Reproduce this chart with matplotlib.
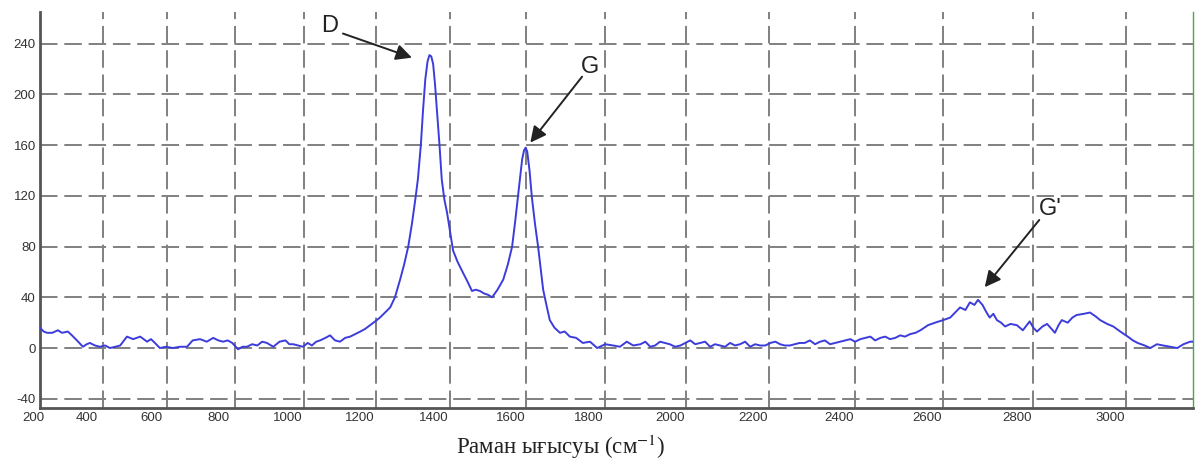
import numpy as np
import matplotlib
matplotlib.use("Agg")
import matplotlib.pyplot as plt
from matplotlib.transforms import ScaledTranslation

# Raman spectrum
wavenumber = [
    200, 212, 223, 240, 258, 271, 290, 303, 319, 338, 350, 360, 376, 392, 408,
    423, 440, 455, 476, 495, 517, 538, 550, 562, 577, 596, 616, 638, 659, 676,
    698, 718, 737, 752, 766, 780, 793, 810, 823, 836, 851, 866, 880, 894, 912,
    930, 947, 958, 969, 983, 997, 1010, 1022, 1034, 1045, 1060, 1073, 1087, 1101,
    1115, 1129, 1143, 1157, 1170, 1184, 1198, 1211, 1225, 1239, 1252, 1266, 1277,
    1288, 1298, 1307, 1314, 1322, 1328, 1334, 1340, 1345, 1350, 1355, 1360, 1366,
    1372, 1378, 1385, 1392, 1400, 1408, 1420, 1435, 1447, 1458, 1468, 1479, 1490,
    1500, 1511, 1525, 1540, 1552, 1563, 1571, 1578, 1584, 1589, 1594, 1598, 1602,
    1608, 1614, 1622, 1630, 1643, 1652, 1660, 1672, 1686, 1698, 1711, 1727, 1744,
    1762, 1780, 1800, 1820, 1837, 1854, 1870, 1888, 1900, 1912, 1924, 1936, 1948,
    1960, 1973, 1986, 1998, 2010, 2022, 2034, 2046, 2058, 2070, 2082, 2094, 2106,
    2118, 2130, 2142, 2154, 2166, 2178, 2190, 2202, 2214, 2225, 2236, 2248, 2260,
    2271, 2283, 2295, 2307, 2319, 2330, 2342, 2354, 2366, 2378, 2389, 2400, 2412,
    2424, 2435, 2446, 2458, 2469, 2480, 2492, 2503, 2514, 2526, 2538, 2549, 2566,
    2582, 2600, 2616, 2627, 2638, 2650, 2660, 2670, 2678, 2688, 2697, 2704, 2712,
    2720, 2729, 2738, 2750, 2764, 2777, 2792, 2800, 2808, 2820, 2830, 2840, 2847,
    2855, 2862, 2875, 2885, 2894, 2910, 2923, 2935, 2945, 2960, 2973, 2988, 3004,
    3015, 3025, 3040, 3052, 3066, 3079, 3094, 3109, 3122, 3136, 3142,
]
intensity = [
    16, 13, 12, 12, 14, 12, 13, 10, 6, 1, 3, 4, 2, 1, 2,
    0, 1, 2, 9, 7, 9, 5, 7, 4, 0, 1, 0, 1, 1, 6,
    7, 5, 8, 6, 5, 6, 4, -1, 1, 1, 3, 2, 5, 4, 1,
    5, 6, 3, 3, 2, 1, 4, 2, 5, 6, 8, 10, 6, 5,
    8, 9, 11, 13, 15, 18, 21, 24, 28, 32, 40, 54, 66,
    80, 98, 117, 133, 160, 188, 212, 226, 231, 230, 224, 208, 184,
    160, 133, 117, 107, 92, 77, 68, 59, 52, 45, 46, 45, 43,
    42, 40, 46, 54, 66, 80, 100, 119, 136, 149, 156, 158, 155,
    140, 119, 98, 80, 46, 33, 22, 16, 12, 13, 9, 8, 4,
    5, 0, 3, 2, 1, 5, 2, 3, 5, 1, 2, 5, 4,
    3, 1, 2, 4, 6, 3, 4, 5, 1, 3, 2, 1, 4,
    2, 3, 5, 1, 3, 2, 2, 4, 5, 3, 2, 2, 3,
    4, 4, 6, 3, 5, 6, 3, 4, 5, 6, 7, 5, 7,
    8, 9, 6, 8, 9, 7, 8, 10, 9, 11, 12, 14, 18,
    20, 22, 24, 28, 32, 30, 36, 34, 38, 34, 28, 24, 27,
    22, 20, 17, 19, 18, 14, 21, 16, 13, 17, 19, 15, 12,
    18, 22, 20, 24, 26, 27, 28, 25, 22, 19, 17, 13, 9,
    6, 4, 2, 0, 3, 2, 1, 0, 3, 5, 5,
]

y_ticks = [-40, 0, 40, 80, 120, 160, 200, 240]
x_ticks = list(range(200, 3001, 200))

# peak labels: (text, text position, arrow tip)
peak_names = ["D", "G", "G'"]
peak_text_xy = [(1073, 254), (1762, 222), (2836, 110)]
peak_tail_xy = [(1109, 248), (1742, 214), (2813, 101)]
peak_tip_xy = [(1298, 229), (1610, 162), (2693, 48)]

# the source picture is slightly stretched to the right, mimic with a mild quadratic scale
K = 9.39e-5


def fwd(x):
    d = np.asarray(x, dtype=float) - 200
    return d + K * d * d


def inv(y):
    y = np.asarray(y, dtype=float)
    return 200 + (-1 + np.sqrt(np.maximum(1 + 4 * K * y, 0))) / (2 * K)


plt.rcParams["mathtext.fontset"] = "stix"

fig = plt.figure(figsize=(11.96, 4.61), dpi=100)
ax = fig.add_axes([40 / 1196, 53 / 461, 1153 / 1196, 396 / 461])
ax.set_xscale("function", functions=(fwd, inv))

ax.plot(wavenumber, intensity, color="#3c3cdc", lw=1.4, zorder=3)

ax.set_xlim(200, 3142)
ax.set_ylim(-47.3, 265)
ax.set_xticks(x_ticks)
ax.set_yticks(y_ticks)
ax.set_xticklabels([str(v) for v in x_ticks])
ax.set_yticklabels([str(v) for v in y_ticks])
ax.grid(True, color="#808080", lw=1.4, linestyle=(0, (9, 3.5)), zorder=1)
ax.tick_params(length=0, labelsize=9.5, labelcolor="#333333", pad=3)
for lab in ax.get_xticklabels() + ax.get_yticklabels():
    lab.set_fontfamily("Liberation Sans")

# x labels sit a little left of their grid lines in the original
for i, lab in enumerate(ax.get_xticklabels()):
    shift = -7 if i == 0 else -16
    lab.set_transform(lab.get_transform() + ScaledTranslation(shift / 100, 0, fig.dpi_scale_trans))

ax.spines["top"].set_visible(False)
ax.spines["left"].set_color("#555555")
ax.spines["left"].set_linewidth(2)
ax.spines["bottom"].set_color("#555555")
ax.spines["bottom"].set_linewidth(2)
ax.spines["right"].set_color("#4aa84a")
ax.spines["right"].set_linewidth(1)

for name, txy, tail, tip in zip(peak_names, peak_text_xy, peak_tail_xy, peak_tip_xy):
    ax.text(txy[0], txy[1], name, fontsize=17, color="#222222",
            ha="center", va="center", family="Liberation Sans", zorder=5)
    ax.annotate("", xy=tip, xytext=tail,
                arrowprops=dict(arrowstyle="-|>", color="#222222", lw=1.4,
                                mutation_scale=24, shrinkA=0, shrinkB=0),
                zorder=5)

fig.text(561 / 1196, 1 - 447 / 461, "Раман ығысуы (см$^{-1}$)", fontsize=16.5,
         family=["Liberation Serif", "DejaVu Serif"], ha="center", va="center",
         color="#222222")

fig.savefig("out.png", dpi=100)
